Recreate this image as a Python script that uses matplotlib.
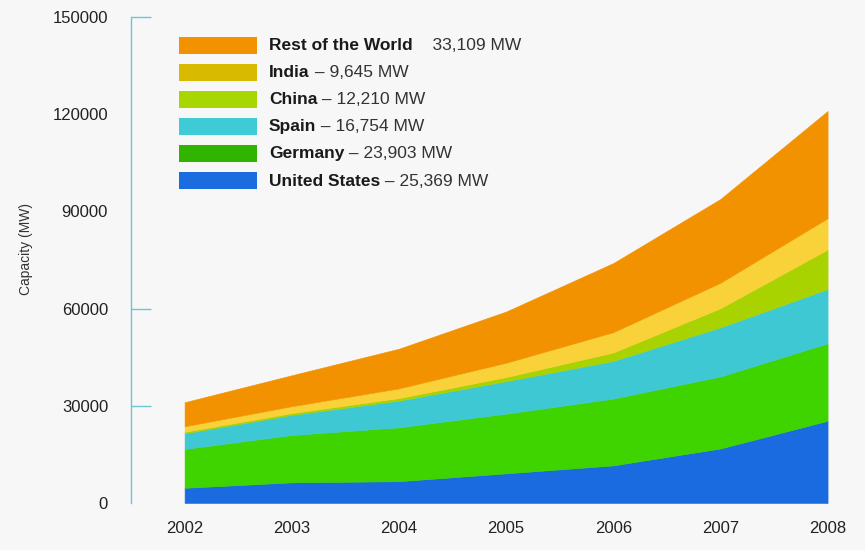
import matplotlib
matplotlib.use('Agg')
import matplotlib.pyplot as plt
from matplotlib.patches import Rectangle

plt.rcParams['font.family'] = ['Liberation Sans', 'DejaVu Sans']

years = [2002, 2003, 2004, 2005, 2006, 2007, 2008]

# installed capacity per country (MW)
us = [4685, 6372, 6725, 9149, 11603, 16819, 25369]
germany = [12001, 14609, 16629, 18428, 20622, 22247, 23903]
spain = [4825, 6203, 8263, 10027, 11623, 15145, 16754]
china = [468, 568, 764, 1260, 2599, 5912, 12210]
india = [1702, 2125, 3000, 4430, 6270, 7850, 9645]
rest = [7419, 9554, 12239, 15797, 21335, 25862, 33109]

area_colors = ['#1a6ae0', '#3fd300', '#3ec8d4', '#a9d300', '#f9d23a', '#f29200']

legend_names = ['Rest of the World', 'India', 'China', 'Spain', 'Germany', 'United States']
legend_values = ['    33,109 MW', ' \u2013 9,645 MW', ' \u2013 12,210 MW', ' \u2013 16,754 MW',
                 ' \u2013 23,903 MW', ' \u2013 25,369 MW']
legend_colors = ['#f39200', '#d8bb00', '#a8d600', '#3ecbd6', '#30b400', '#1a6cdf']

yticks = [0, 30000, 60000, 90000, 120000, 150000]

bg = '#f7f7f7'
spine_col = '#6cc4d4'

fig = plt.figure(figsize=(8.65, 5.5), dpi=100, facecolor=bg)
ax = fig.add_axes([131 / 865, 47 / 550, 707.3 / 865, 486 / 550], facecolor=bg)

ax.stackplot(years, us, germany, spain, china, india, rest,
             colors=area_colors, linewidth=0.4, edgecolor='face')

ax.set_xlim(2001.5, 2008.1)
ax.set_ylim(0, 150000)

for s in ['top', 'right', 'bottom']:
    ax.spines[s].set_visible(False)
ax.spines['left'].set_color(spine_col)
ax.spines['left'].set_linewidth(1.0)

ax.set_yticks(yticks)
ax.set_yticklabels([str(v) for v in yticks], fontsize=12, color='#222222')
ax.tick_params(axis='y', direction='in', length=14.4, width=1.0, color=spine_col, pad=16.5)
# only some of the ticks have marks in the original
for i, t in enumerate(ax.yaxis.get_major_ticks()):
    if yticks[i] in (0, 90000, 120000):
        t.tick1line.set_visible(False)

ax.set_xticks(years)
ax.set_xticklabels([str(y) for y in years], fontsize=12, color='#222222')
ax.tick_params(axis='x', length=0, pad=13)

ax.set_ylabel('Capacity (MW)', fontsize=10, color='#333333')
ax.yaxis.set_label_coords(-0.1386, 0.523)

# hand made legend
fig.canvas.draw()
renderer = fig.canvas.get_renderer()
W, H = 865, 550
for i, (name, val, col) in enumerate(zip(legend_names, legend_values, legend_colors)):
    yc = 45 + i * 27.2
    fig.patches.append(Rectangle((179 / W, 1 - (yc + 8.5) / H), 78 / W, 17 / H,
                                 transform=fig.transFigure, facecolor=col,
                                 edgecolor='none'))
    t = fig.text(269 / W, 1 - yc / H, name, fontsize=12.5, fontweight='bold',
                 color='#1a1a1a', va='center', ha='left')
    bb = t.get_window_extent(renderer)
    fig.text(bb.x1 / W, 1 - yc / H, val, fontsize=12.5, color='#333333',
             va='center', ha='left')

plt.savefig('out.png', dpi=100, facecolor=bg)
